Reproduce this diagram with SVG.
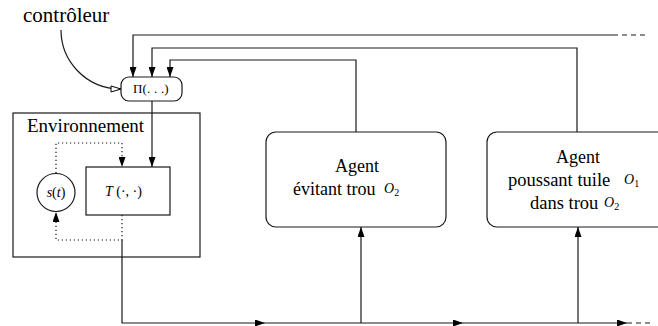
<svg xmlns="http://www.w3.org/2000/svg" width="658" height="326" viewBox="0 0 658 326">
<style>
.ln{fill:none;stroke:#1a1a1a;stroke-width:1.2}
.dot{fill:none;stroke:#1a1a1a;stroke-width:1.2;stroke-dasharray:1.2 2.8}
.dash{fill:none;stroke:#1a1a1a;stroke-width:1.2;stroke-dasharray:5 4}
.box{fill:#fff;stroke:#1a1a1a;stroke-width:1.2}
text{font-family:'Liberation Serif','DejaVu Serif',serif;fill:#000}
.m{font-style:italic}
</style>
<defs>
<marker id="a" markerWidth="10" markerHeight="7" refX="10" refY="3.5" orient="auto" markerUnits="userSpaceOnUse">
<path d="M0,0 L10,3.5 L0,7 Z" fill="#000"/>
</marker>
<marker id="o" markerWidth="12" markerHeight="8" refX="11" refY="4" orient="auto" markerUnits="userSpaceOnUse">
<path d="M1,1 L11,4 L1,7 Z" fill="#fff" stroke="#000" stroke-width="1"/>
</marker>
</defs>
<text font-family="Liberation Serif, serif" x="23" y="22" font-size="21">contrôleur</text>
<g id="connectors">
<path class="ln" d="M61,30 C61,60 85,89 121,89" marker-end="url(#o)"/>
<path class="ln" d="M613,35 H133 V77" marker-end="url(#a)"/>
<path class="dash" d="M613,35 H645"/>
<path class="ln" d="M577,132 V48 H152 V77" marker-end="url(#a)"/>
<path class="ln" d="M356,132 V60 H170 V77" marker-end="url(#a)"/>
<path class="ln" d="M152,101 V167" marker-end="url(#a)"/>
<path class="dot" d="M56,173 V143 H122 V167" marker-end="url(#a)"/>
<path class="dot" d="M122,215 V240 H56 V212" marker-end="url(#a)"/>
<path class="ln" d="M122,240 V323 H265" marker-end="url(#a)"/>
<path class="ln" d="M265,323 H463" marker-end="url(#a)"/>
<path class="ln" d="M463,323 H627" marker-end="url(#a)"/>
<path class="dash" d="M627,323 H652"/>
<path class="ln" d="M361,323 V227" marker-end="url(#a)"/>
<path class="ln" d="M578,323 V227" marker-end="url(#a)"/>
</g>
<g id="pi">
<rect class="box" x="121" y="77" width="61" height="24" rx="8"/>
<text font-family="Liberation Serif, serif" x="133" y="93" font-size="13" letter-spacing="0.2">Π(. . .)</text>
</g>
<g id="env">
<rect class="ln" x="13" y="113" width="187" height="144"/>
<text font-family="Liberation Serif, serif" x="27" y="132" font-size="19">Environnement</text>
</g>
<g id="state">
<circle class="box" cx="56" cy="192.5" r="19"/>
<text font-family="Liberation Serif, serif" x="56" y="197" font-size="14" text-anchor="middle"><tspan class="m">s</tspan>(<tspan class="m">t</tspan>)</text>
</g>
<g id="trans">
<rect class="box" x="86" y="167" width="84" height="48"/>
<text font-family="Liberation Serif, serif" x="105" y="196" font-size="14"><tspan class="m">T</tspan> (·, ·)</text>
</g>
<g id="agent1">
<rect class="box" x="266" y="132" width="180" height="95" rx="10"/>
<text font-family="Liberation Serif, serif" x="357" y="172" font-size="18" text-anchor="middle">Agent</text>
<text font-family="Liberation Serif, serif" x="293" y="195" font-size="18">évitant trou</text>
<text font-family="Liberation Serif, serif" class="m" x="384" y="193" font-size="14">O<tspan font-style="normal" font-size="10" dy="3">2</tspan></text>
</g>
<g id="agent2">
<rect class="box" x="487" y="132" width="190" height="95" rx="10"/>
<text font-family="Liberation Serif, serif" x="578" y="163" font-size="18" text-anchor="middle">Agent</text>
<text font-family="Liberation Serif, serif" x="508" y="186" font-size="18.5">poussant tuile</text>
<text font-family="Liberation Serif, serif" class="m" x="624" y="184" font-size="14">O<tspan font-style="normal" font-size="10" dy="3">1</tspan></text>
<text font-family="Liberation Serif, serif" x="530" y="209" font-size="18.5">dans trou</text>
<text font-family="Liberation Serif, serif" class="m" x="604" y="207" font-size="14">O<tspan font-style="normal" font-size="10" dy="3">2</tspan></text>
</g>
</svg>
